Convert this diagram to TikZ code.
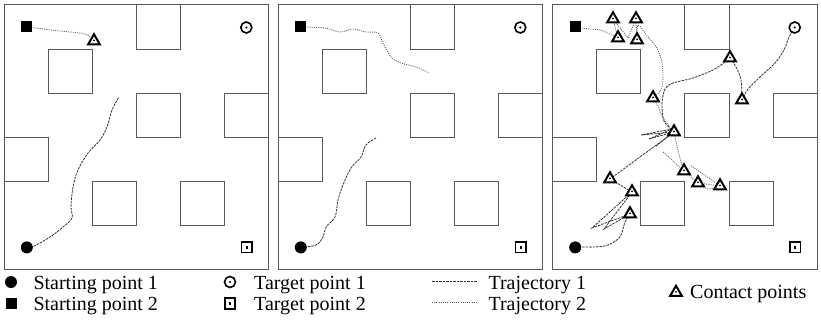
\documentclass[tikz,border=0pt]{standalone}
\usepackage{fontspec}
\setmainfont{Liberation Serif}
\usetikzlibrary{shapes.geometric}
\begin{document}
\begin{tikzpicture}[x=1pt,y=-1pt,
  wall/.style={draw=black!65, line width=1pt},
  traja/.style={draw=black!80, line width=0.8pt, dash pattern=on 2.5pt off 1pt},
  trajb/.style={draw=black!65, line width=0.8pt, dash pattern=on 1pt off 1.2pt},
  startone/.style={circle, fill=black, minimum size=12pt, inner sep=0pt},
  starttwo/.style={rectangle, fill=black, minimum size=11pt, inner sep=0pt},
  goalone/.style={circle, draw=black, fill=white, line width=1.6pt, minimum size=11pt, inner sep=0pt,
    path picture={\fill[black] (path picture bounding box.center) circle (1.2pt);}},
  goaltwo/.style={rectangle, draw=black, fill=white, line width=1.6pt, minimum size=10.5pt, inner sep=0pt,
    path picture={\fill[black] ([shift={(-1.1pt,-1.1pt)}]path picture bounding box.center) rectangle ++(2.2pt,2.2pt);}},
  contact/.style={regular polygon, regular polygon sides=3, draw=black, fill=white, line width=2pt,
    minimum size=13.5pt, inner sep=0pt,
    path picture={\fill[black] ([yshift=-1pt]path picture bounding box.center) circle (1pt);}},
  legtext/.style={anchor=base west, inner sep=0pt, font=\fontsize{20}{24}\selectfont}
]
\useasboundingbox (0,0) rectangle (821,321);

% three arenas: frame, obstacles and the fixed start/target positions
\foreach \k/\ox in {1/4.3, 2/278.3, 3/552.7}{
  \begin{scope}[xshift=\ox pt]
    \draw[wall] (0,5) rectangle (264.5,269.5);
    \foreach \cx/\cy in {3/0, 1/1, 3/2, 5/2, 0/3, 2/4, 4/4}
      \draw[wall] (\cx*44.08, 5+\cy*44.08) rectangle ++(44.08,44.08);
    \coordinate (sa-\k) at (22.5,247.4);
    \coordinate (sb-\k) at (22.5,27);
    \coordinate (ga-\k) at (242,27.5);
    \coordinate (gb-\k) at (242.5,247.4);
  \end{scope}
}

% arena 1
\coordinate (q1) at (94,41);
\draw[trajb] plot[smooth] coordinates {(sb-1) (60,31) (85,34) (q1)};
\draw[traja] plot[smooth, tension=0.6] coordinates {(sa-1) (33,246.7) (50,237) (63,227) (72,218) (71,207)
  (73,187) (78,170) (88,153) (100,140) (107,127) (112,110) (119,97)};

% arena 2
\draw[trajb] plot[smooth, tension=0.6] coordinates {(sb-2) (325,28) (340,32) (353,29) (366,32) (378,33)
  (383,43) (391,57) (401,63) (413,66) (421,69) (429,73)};
\draw[traja] plot[smooth, tension=0.6] coordinates {(sa-2) (316,245) (323,237) (326,227) (335,217)
  (338,200) (343,185) (351,168) (361,157) (366,145) (376,138)};

% arena 3: contact positions
\coordinate (c1) at (613,19);
\coordinate (c2) at (636,19);
\coordinate (c3) at (618,38);
\coordinate (c4) at (637,40);
\coordinate (c5) at (730,58);
\coordinate (c6) at (653,98);
\coordinate (c7) at (742,100);
\coordinate (c8) at (674,132);
\coordinate (c9) at (684,171);
\coordinate (c10) at (698,183);
\coordinate (c11) at (720,186);
\coordinate (c12) at (610,179);
\coordinate (c13) at (632,192);
\coordinate (c14) at (630,214);

% arena 3: second trajectory
\draw[trajb] plot[smooth] coordinates {(sb-3) (580,28) (600,30) (610,34) (c3)};
\draw[trajb] (c3) -- (c1) -- (628,38) -- (c2) -- (c4);
\draw[trajb] plot[smooth] coordinates {(c4) (638,25) (648,37) (657,48) (662,63) (663,78) (661,90) (c6)};
\draw[trajb] plot[smooth] coordinates {(c6) (658,106) (663,118) (c8)};
\draw[trajb] plot[smooth] coordinates {(c8) (676,142) (680,158) (c9)};
\draw[trajb] (663,152) -- (c9) -- (c10) -- (c11) -- (690,165);
\draw[trajb] plot[smooth] coordinates {(c10) (708,189) (c11)};

% arena 3: first trajectory
\draw[traja] plot[smooth] coordinates {(sa-3) (582,247) (595,247) (608,245) (620,237) (625,222) (c14)};
\draw[traja] (c14) -- (592,228) -- (c13) -- (604,229) -- (c14);
\draw[traja] (c13) -- (c12) -- (c8) -- (641,135) -- (672,129) -- (649,139) -- (c8) -- (656,146);
\draw[traja] plot[smooth] coordinates {(c8) (664,121) (662,104) (665,89) (673,83) (693,78) (713,70) (725,62) (c5)};
\draw[traja] plot[smooth] coordinates {(c5) (736,67) (741,80) (c7)};
\draw[traja] plot[smooth] coordinates {(c7) (748,89) (760,77) (775,63) (784,50) (789,37) (ga-3)};

% markers on top of the trajectories
\foreach \k in {1,2,3}{
  \node[startone] (msa-\k) at (sa-\k) {};
  \node[starttwo] (msb-\k) at (sb-\k) {};
  \node[goalone] (mga-\k) at (ga-\k) {};
  \node[goaltwo] (mgb-\k) at (gb-\k) {};
}
\node[contact] (mq1) at (q1) {};
\foreach \i in {1,...,14}
  \node[contact] (mc\i) at (c\i) {};

% legend
\node[startone] (lsa) at (11,282) {};
\node[legtext] (tsa) at (33.3,289) {Starting point 1};
\node[starttwo] (lsb) at (11,303.5) {};
\node[legtext] (tsb) at (33.3,310.5) {Starting point 2};
\node[goalone] (lga) at (230,282) {};
\node[legtext] (tga) at (254,289) {Target point 1};
\node[goaltwo] (lgb) at (230,303.5) {};
\node[legtext] (tgb) at (254,310.5) {Target point 2};
\coordinate (lta1) at (432,281);
\coordinate (lta2) at (477,281);
\draw[traja] (lta1) -- (lta2);
\node[legtext] (tta) at (488.3,289) {Trajectory 1};
\coordinate (ltb1) at (432,302);
\coordinate (ltb2) at (477,302);
\draw[trajb] (ltb1) -- (ltb2);
\node[legtext] (ttb) at (488.3,310.5) {Trajectory 2};
\node[contact] (lc) at (676,292.5) {};
\node[legtext] (tc) at (690,298) {Contact points};
\end{tikzpicture}
\end{document}
